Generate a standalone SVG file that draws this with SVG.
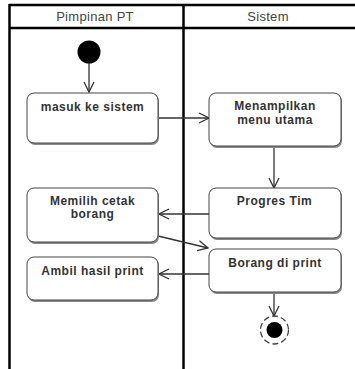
<svg xmlns="http://www.w3.org/2000/svg" width="355" height="369" viewBox="0 0 355 369">
<defs>
<style>
.lane{stroke:#000;stroke-width:2.5;fill:none}
.hdr{font-family:"Liberation Sans",Arial,sans-serif;font-size:13px;letter-spacing:0.3px;fill:#444;text-anchor:middle}
.box{fill:#fff;stroke:#444;stroke-width:1}
.shadow{fill:#888}
.lbl{font-family:"Liberation Sans",Arial,sans-serif;font-size:12px;letter-spacing:0.5px;font-weight:bold;fill:#333;text-anchor:middle}
.con{stroke:#333;stroke-width:1.3;fill:none}
</style>
<marker id="arr" viewBox="0 0 12 12" refX="11" refY="6" markerWidth="12" markerHeight="12" markerUnits="userSpaceOnUse" orient="auto">
<path d="M1,1 L11,6 L1,11" fill="none" stroke="#333" stroke-width="1.3"/>
</marker>
</defs>
<rect width="355" height="369" fill="#fff"/>
<g id="lanes">
<line class="lane" x1="9" y1="5" x2="355" y2="5"/>
<line class="lane" x1="9" y1="28" x2="355" y2="28"/>
<line class="lane" x1="9.5" y1="4" x2="9.5" y2="369"/>
<line class="lane" x1="183.5" y1="4" x2="183.5" y2="369"/>
<text class="hdr" x="95" y="21">Pimpinan PT</text>
<text class="hdr" x="268" y="21">Sistem</text>
</g>
<g id="connectors">
<line class="con" x1="89" y1="63" x2="89" y2="92" marker-end="url(#arr)"/>
<line class="con" x1="158" y1="118" x2="209" y2="118" marker-end="url(#arr)"/>
<line class="con" x1="274" y1="148" x2="274" y2="188" marker-end="url(#arr)"/>
<line class="con" x1="209" y1="214" x2="159" y2="214" marker-end="url(#arr)"/>
<line class="con" x1="158" y1="236" x2="208" y2="248" marker-end="url(#arr)"/>
<line class="con" x1="209" y1="274" x2="159" y2="274" marker-end="url(#arr)"/>
<line class="con" x1="274" y1="293" x2="274" y2="316" marker-end="url(#arr)"/>
</g>
<g id="start">
<circle cx="89" cy="52" r="11.5" fill="#000"/>
</g>
<g id="masuk">
<rect class="shadow" x="28" y="94" width="131" height="51" rx="7"/>
<rect class="box" x="27" y="93" width="131" height="50" rx="7"/>
<text class="lbl" x="92.5" y="111">masuk ke sistem</text>
</g>
<g id="menampilkan">
<rect class="shadow" x="210" y="94" width="132" height="54" rx="7"/>
<rect class="box" x="209" y="93" width="132" height="53" rx="7"/>
<text class="lbl" x="275" y="110">Menampilkan</text>
<text class="lbl" x="275" y="123.5">menu utama</text>
</g>
<g id="progres">
<rect class="shadow" x="210" y="189" width="132" height="51" rx="7"/>
<rect class="box" x="209" y="188" width="132" height="50" rx="7"/>
<text class="lbl" x="274.5" y="205">Progres Tim</text>
</g>
<g id="memilih">
<rect class="shadow" x="28" y="189" width="131" height="55" rx="7"/>
<rect class="box" x="27" y="188" width="131" height="54" rx="7"/>
<text class="lbl" x="92.5" y="204.5">Memilih cetak</text>
<text class="lbl" x="92.5" y="218">borang</text>
</g>
<g id="borang">
<rect class="shadow" x="210" y="250" width="132" height="44" rx="7"/>
<rect class="box" x="209" y="249" width="132" height="43" rx="7"/>
<text class="lbl" x="275" y="267">Borang di print</text>
</g>
<g id="ambil">
<rect class="shadow" x="28" y="258" width="131" height="44" rx="7"/>
<rect class="box" x="27" y="257" width="131" height="43" rx="7"/>
<text class="lbl" x="92.5" y="275">Ambil hasil print</text>
</g>
<g id="end">
<circle cx="274.5" cy="330" r="14" fill="none" stroke="#444" stroke-width="1.3" stroke-dasharray="6,3"/>
<circle cx="274.5" cy="330" r="8" fill="#000"/>
</g>
</svg>
